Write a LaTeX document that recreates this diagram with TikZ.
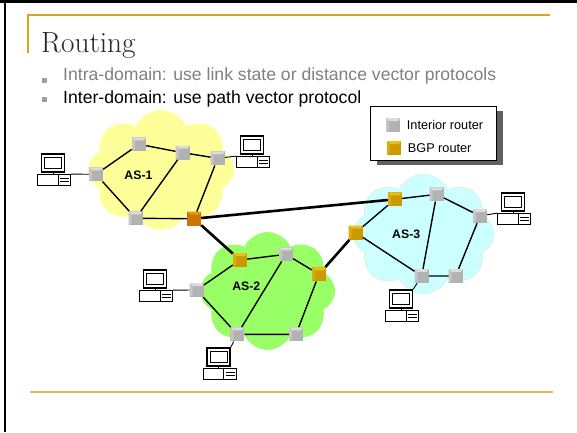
\documentclass[tikz,border=0pt]{standalone}
\usepackage{fontspec}
\newfontfamily\arial{Liberation Sans}
\usetikzlibrary{shapes,shadows,positioning}
\definecolor{slidegold}{HTML}{D9A521}
\definecolor{slidegoldlight}{HTML}{E3BA55}
\definecolor{as1fill}{HTML}{FFFF99}
\definecolor{as2fill}{HTML}{99FF66}
\definecolor{as3fill}{HTML}{CCFFFF}
\definecolor{rtgray}{HTML}{B2B2B2}
\definecolor{rtlight}{HTML}{DCDCDC}
\definecolor{rtmid}{HTML}{C6C6C6}
\definecolor{bgpgold}{HTML}{CC9900}
\definecolor{bgplight}{HTML}{E8C21A}
\definecolor{bgpmid}{HTML}{DDAA10}
\definecolor{bgporange}{HTML}{CC7300}
\definecolor{bgporangelight}{HTML}{E09A20}
\tikzset{routercube/.style n args={3}{rectangle, minimum size=14pt, inner sep=0pt, fill=#1,
  path picture={
    \fill[#2] (path picture bounding box.north west) -- (path picture bounding box.north east)
      -- ([xshift=-2pt,yshift=-3pt]path picture bounding box.north east)
      -- ([xshift=3pt,yshift=-3pt]path picture bounding box.north west) -- cycle;
    \fill[#3] (path picture bounding box.north west) -- ([xshift=3pt,yshift=-3pt]path picture bounding box.north west)
      -- ([xshift=3pt,yshift=2pt]path picture bounding box.south west) -- (path picture bounding box.south west) -- cycle;
  }}}
\tikzset{pc/.pic={
  \node[draw, line width=0.8pt, fill=white, minimum width=33pt, minimum height=11pt, inner sep=0pt] (-base) at (0,0) {};
  \draw[line width=0.6pt] (4,-5.5) -- (4,5.5) (6,-2) -- (15,-2) (6,1) -- (15,1);
  \draw[line width=0.8pt] (-1,-8) -- (-1,-5.5);
  \node[draw, line width=1.4pt, fill=white, minimum width=23pt, minimum height=18pt, inner sep=0pt] (-mon) at (-1,-17) {};
  \draw[line width=0.7pt] (-9.5,-23) rectangle (7.5,-12);
}}
\tikzstyle{router}=[routercube={rtgray}{rtlight}{rtmid}]
\tikzstyle{bgp}=[routercube={bgpgold}{bgplight}{bgpmid}]
\tikzstyle{bgp edge}=[routercube={bgporange}{bgporangelight}{bgporange}]
\tikzstyle{as cloud}=[cloud, cloud puffs=8, cloud puff arc=130, inner sep=0pt]
\tikzstyle{link}=[line width=1.4pt]
\tikzstyle{peer}=[line width=2.6pt]
\tikzstyle{lan}=[line width=0.9pt]
\tikzstyle{aslabel}=[inner sep=0pt, font=\arial\bfseries\fontsize{12.3}{14}\selectfont]
\tikzstyle{bullettext}=[anchor=base west, inner sep=0pt, font=\arial\fontsize{17.6}{20}\selectfont]
\tikzstyle{keytext}=[inner sep=0pt, font=\arial\fontsize{12.7}{15}\selectfont]
\tikzstyle{dot}=[fill=gray!75, minimum size=5pt, inner sep=0pt]
\begin{document}
\begin{tikzpicture}[x=1pt,y=-1pt]
        \useasboundingbox (0,0) rectangle (577,432);
        \draw[line width=2.7pt] (0,1.35) -- (577,1.35);
        \draw[line width=2pt] (5,0) -- (5,432);
        \draw[slidegold, line width=1.4pt] (28,53) -- (28,15) -- (550,15);
        \draw[slidegoldlight, line width=1.8pt] (30,392) -- (553,392);
        \node[anchor=base west, inner sep=0pt, text=black!85, font=\fontsize{29.3}{34}\selectfont] (title) at (41,52) {Routing};
        \node[dot] (dot1) at (44.5,80) {};
        \node[bullettext, text=gray] (intra) at (63,80) {Intra-domain: use link state or distance vector protocols};
        \node[dot] (dot2) at (44.5,99) {};
        \node[bullettext] (inter) at (63,103) {Inter-domain: use path vector protocol};
        \node[draw, line width=0.8pt, fill=white, minimum width=126pt, minimum height=54pt,
              drop shadow={shadow xshift=6pt, shadow yshift=-5pt, fill=black!62, opacity=1}] (key) at (433.5,133) {};
        \node[router] (keyint) at (393,125) {};
        \node[keytext, right = 6.5pt of keyint] (keyinttext) {Interior router};
        \node[bgp] (keybgp) at (394,148) {};
        \node[keytext, right = 6.5pt of keybgp] (keybgptext) {BGP router};
        \node[as cloud, aspect=1.22, minimum width=146pt, minimum height=120pt, fill=as1fill] (as1) at (161,170) {};
        \node[as cloud, aspect=1.14, minimum width=135pt, minimum height=118pt, fill=as2fill] (as2) at (267.5,291) {};
        \node[as cloud, aspect=1.18, minimum width=141pt, minimum height=120pt, fill=as3fill, draw=black!12] (as3) at (423.5,234) {};
        \node[aslabel] (as1name) at (138.5,175.5) {AS-1};
        \node[aslabel] (as2name) at (246.3,286.2) {AS-2};
        \node[aslabel] (as3name) at (406.2,234.2) {AS-3};
        \node[router] (r1a) at (96,174.3) {};
        \node[router] (r1b) at (139,144.3) {};
        \node[router] (r1c) at (182.7,152.7) {};
        \node[router] (r1d) at (217.7,158.3) {};
        \node[router] (r1e) at (135.7,218.3) {};
        \node[bgp edge] (b1) at (194,218.7) {};
        \node[bgp] (b2a) at (240,260) {};
        \node[router] (r2a) at (286,254.3) {};
        \node[bgp] (b2b) at (319,274.3) {};
        \node[router] (r2b) at (196.7,290) {};
        \node[router] (r2c) at (237.3,334.3) {};
        \node[router] (r2d) at (296,334.3) {};
        \node[bgp] (b3a) at (395,199.3) {};
        \node[router] (r3a) at (436.7,194.3) {};
        \node[router] (r3b) at (480,216) {};
        \node[bgp] (b3b) at (355.7,232.7) {};
        \node[router] (r3c) at (421.7,276) {};
        \node[router] (r3d) at (455.7,276) {};
        \pic (pc1) at (54,180) {pc};
        \pic (pc2) at (253,162) {pc};
        \pic (pc3) at (156,296) {pc};
        \pic (pc4) at (219.5,374) {pc};
        \pic (pc5) at (402,316) {pc};
        \pic (pc6) at (514,219) {pc};
        \draw[link] (r1a) -- (r1b) -- (r1c) -- (r1d) -- (b1) -- (r1e) -- (r1a) (r1c) -- (r1e);
        \draw[link] (b2a) -- (r2a) -- (b2b) -- (r2d) -- (r2c) -- (r2b) -- (b2a) (r2a) -- (r2c);
        \draw[link] (b3a) -- (r3a) -- (r3b) -- (r3d) -- (r3c) -- (b3b) -- (b3a) (r3a) -- (r3c);
        \draw[peer] (b1) -- (b3a);
        \draw[peer] (b1) -- (b2a);
        \draw[peer] (b2b) -- (b3b);
        \draw[lan] (r1a) -- (pc1-base.north east);
        \draw[lan] (r1d) -- (pc2-base.north west);
        \draw[lan] (r2b) -- (pc3-base.north east);
        \draw[lan] (r2c) -- (pc4-mon.north east);
        \draw[lan] (r3c) -- (pc5-mon.north east);
        \draw[lan] (r3b) -- (pc6-base.north west);
    \end{tikzpicture}
\end{document}
